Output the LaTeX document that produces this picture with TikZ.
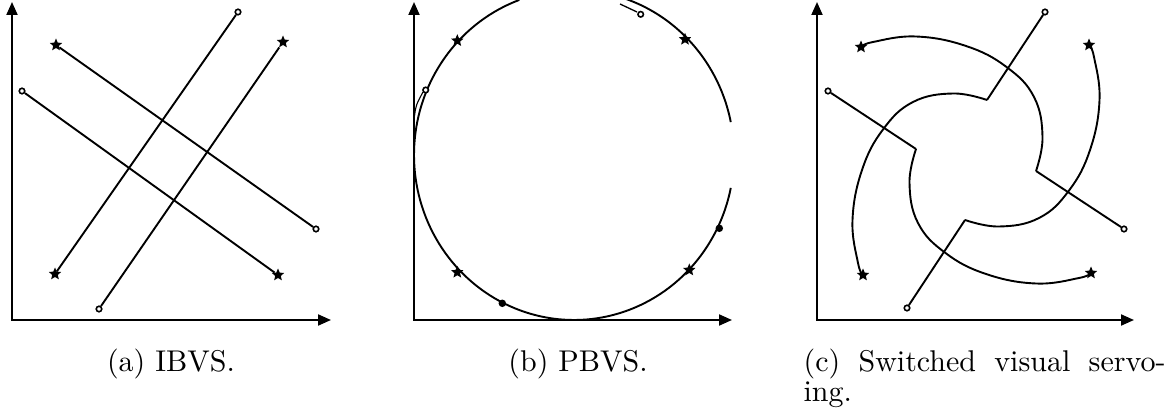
\documentclass[tikz,border=0pt]{standalone}
\usetikzlibrary{shapes.geometric,arrows.meta}
\begin{document}
\begin{tikzpicture}[x=1pt,y=-1pt,
  traj/.style={line width=1.9pt},
  axes/.style={line width=2pt,{Triangle[length=13pt,width=11pt]}-{Triangle[length=13pt,width=11pt]}},
  ring/.style={circle,draw,line width=1.6pt,minimum size=5.5pt,inner sep=0pt,fill=white},
  starm/.style={star,star points=5,star point ratio=2.2,fill=black,minimum size=13pt,inner sep=0pt},
  dotm/.style={circle,fill=black,minimum size=7.5pt,inner sep=0pt},
  captext/.style={scale=3,transform shape,inner sep=0pt}]
\useasboundingbox (0,0) rectangle (1166,419);

% ---------- panel (a) ----------
\coordinate (ayA) at (12,2); \coordinate (aoA) at (12,320); \coordinate (axA) at (331,320);
\draw[axes] (ayA) -- (aoA) -- (axA);
\node[starm] (a1) at (56,45) {};
\node[ring]  (a2) at (316,229) {};
\node[ring]  (a3) at (22,91) {};
\node[starm] (a4) at (278,275) {};
\node[starm] (a5) at (55,274) {};
\node[ring]  (a6) at (238,12) {};
\node[ring]  (a7) at (99,309) {};
\node[starm] (a8) at (283,42) {};
\draw[traj] (a1) -- (a2);
\draw[traj] (a3) -- (a4);
\draw[traj] (a5) -- (a6);
\draw[traj] (a7) -- (a8);

% ---------- panel (b) ----------
\coordinate (ayB) at (414,2); \coordinate (aoB) at (414,320); \coordinate (axB) at (732,320);
\draw[axes] (ayB) -- (aoB) -- (axB);
\draw[line width=1.9pt] plot[domain=11.5:250,samples=120] ({574+160*cos(\x)},{155+165*sin(\x)});
\draw[line width=1.9pt] plot[domain=286:348.5,samples=50] ({574+160*cos(\x)},{155+165*sin(\x)});
\coordinate (bl1) at (414.5,116); \coordinate (bl2) at (423,92);
\draw[line width=1.1pt] (bl1) .. controls (416,105) .. (bl2);
\coordinate (br1) at (620,4); \coordinate (br2) at (637,12);
\draw[line width=1.3pt] (br1) -- (br2);
\node[ring]  (b1) at (425.7,90) {};
\node[starm] (b2) at (457.3,40.7) {};
\node[ring]  (b3) at (640.7,14.3) {};
\node[starm] (b4) at (685,39.3) {};
\node[dotm]  (b5) at (719.3,228.3) {};
\node[starm] (b6) at (689.3,270) {};
\node[starm] (b7) at (457.3,272.3) {};
\node[dotm]  (b8) at (502.3,303.3) {};

% ---------- panel (c) ----------
\coordinate (ayC) at (817,2); \coordinate (aoC) at (817,320); \coordinate (axC) at (1134,320);
\draw[axes] (ayC) -- (aoC) -- (axC);
\foreach \r/\k in {0/1,90/2,-90/3,180/4}{
  \begin{scope}[shift={(976,160)},rotate=\r]
    \node[ring]  (c\k-s) at (69,-148) {};
    \node[starm] (c\k-e) at (-113,115) {};
    \coordinate (c\k-k) at (11,-60);
    \draw[traj] (c\k-s) -- (c\k-k)
      plot[smooth,tension=0.7] coordinates {(c\k-k) (-23,-66.5) (-63,-58) (-93,-30.5) (-114,10) (-123.5,60) (-118,103) (c\k-e.center)};
  \end{scope}
}

% ---------- captions ----------
\node[captext,anchor=base] (capa) at (171,371) {\fontsize{10}{10}\selectfont (a) IBVS.};
\node[captext,anchor=base] (capb) at (578,371) {\fontsize{10}{10}\selectfont (b) PBVS.};
\node[captext,anchor=base west] (capc) at (803,371) {\parbox[t]{120.67pt}{\fontsize{10}{10}\selectfont\makebox[120.67pt][s]{(c) Switched visual servo-}\\ing.}};
\end{tikzpicture}
\end{document}
